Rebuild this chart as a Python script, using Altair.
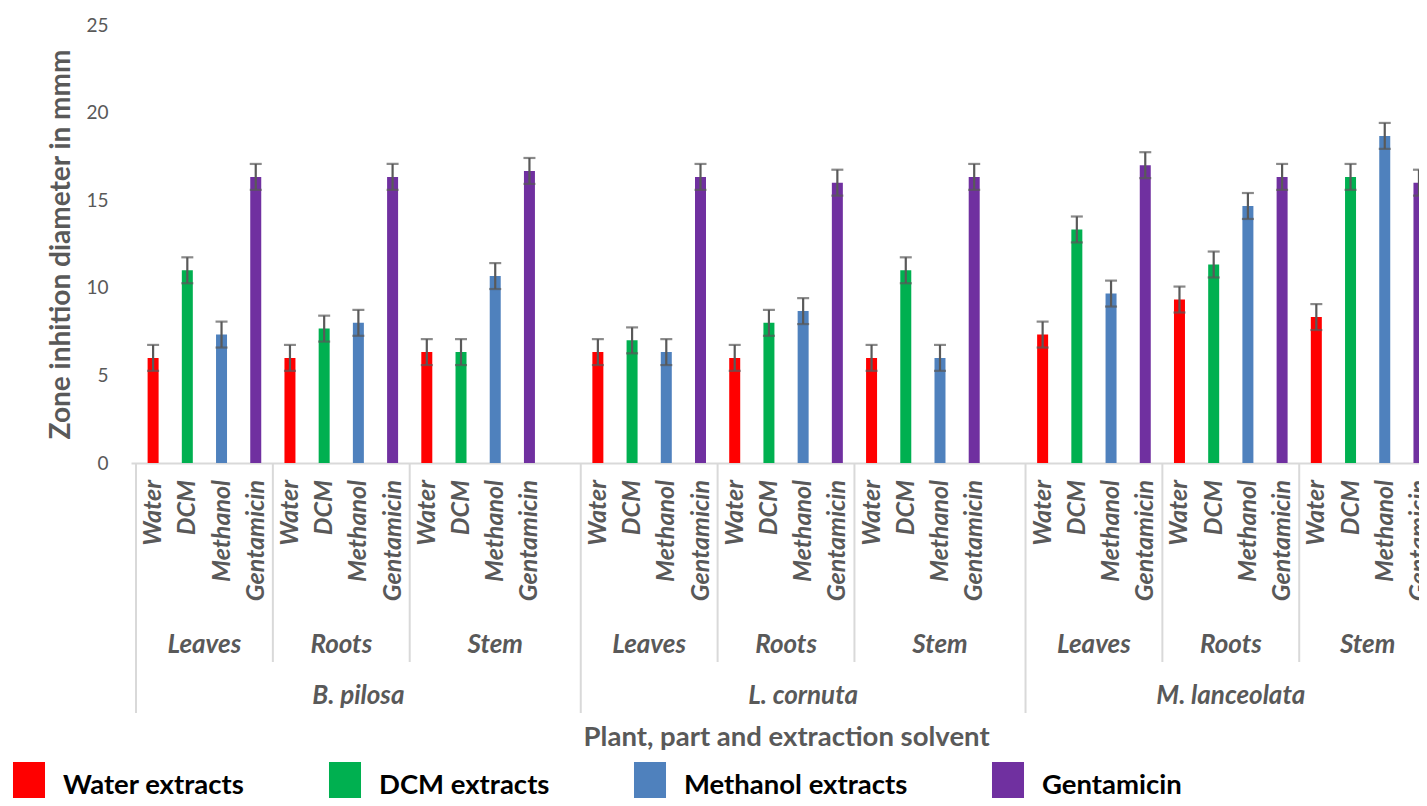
import altair as alt
import pandas as pd

# ---- data ----
PLANTS = ["B. pilosa", "L. cornuta", "M. lanceolata"]
PARTS = ["Leaves", "Roots", "Stem"]
SOLVENTS = ["Water", "DCM", "Methanol", "Gentamicin"]
LEGEND_LABELS = ["Water extracts", "DCM extracts", "Methanol extracts", "Gentamicin"]
COLORS = ["#FF0000", "#00B050", "#4F81BD", "#7030A0"]

# one value per plant/part group (B.p L, R, S | L.c L, R, S | M.l L, R, S)
WATER = [6.0, 6.0, 6.33, 6.33, 6.0, 6.0, 7.33, 9.33, 8.33]
DCM = [11.0, 7.67, 6.33, 7.0, 8.0, 11.0, 13.33, 11.33, 16.33]
METHANOL = [7.33, 8.0, 10.67, 6.33, 8.67, 6.0, 9.67, 14.67, 18.67]
GENTAMICIN = [16.33, 16.33, 16.67, 16.33, 16.0, 16.33, 17.0, 16.33, 16.0]
ERR_WATER = [0.74, 0.74, 0.74, 0.74, 0.74, 0.74, 0.74, 0.74, 0.74]
ERR_DCM = [0.74, 0.74, 0.74, 0.74, 0.74, 0.74, 0.74, 0.74, 0.74]
ERR_METHANOL = [0.74, 0.74, 0.74, 0.74, 0.74, 0.74, 0.74, 0.74, 0.74]
ERR_GENTAMICIN = [0.74, 0.74, 0.74, 0.74, 0.74, 0.74, 0.74, 0.74, 0.74]

SERIES = [WATER, DCM, METHANOL, GENTAMICIN]
ERRS = [ERR_WATER, ERR_DCM, ERR_METHANOL, ERR_GENTAMICIN]

# ---- build tables (category slots, with an empty slot between plants) ----
rows, parts_rows, plant_rows, bounds = [], [], [], []
slot = 0
for pi, plant in enumerate(PLANTS):
    plant_start = slot
    for qi, part in enumerate(PARTS):
        part_start = slot
        g = pi * len(PARTS) + qi
        for si, solv in enumerate(SOLVENTS):
            v, e = SERIES[si][g], ERRS[si][g]
            rows.append(dict(pos=slot + 0.5, solvent=solv, series=LEGEND_LABELS[si],
                             value=v, lo=v - e, hi=v + e))
            slot += 1
        if qi == len(PARTS) - 1 and pi < len(PLANTS) - 1:
            slot += 1  # gap slot belongs to the last part of the plant
        parts_rows.append(dict(pos=(part_start + slot) / 2, label=part))
        if qi > 0:
            bounds.append(dict(b=part_start, kind="part"))
    plant_rows.append(dict(pos=(plant_start + slot) / 2, label=plant))
    bounds.append(dict(b=plant_start, kind="plant"))
bounds.append(dict(b=slot, kind="plant"))
N_SLOTS = slot

df = pd.DataFrame(rows)
parts_df = pd.DataFrame(parts_rows)
plants_df = pd.DataFrame(plant_rows)
bounds_df = pd.DataFrame(bounds)

# The reference plot runs past the right edge of the picture: the visible
# plot width is W, and one category slot is STEP pixels wide.
STEP = 34.48
W, H = 1288, 438
FULL_W = N_SLOTS * STEP
GRAY = "#595959"
LINE = "#D9D9D9"
FONT = "Lato"

xscale = alt.Scale(domain=[0, W / STEP], nice=False, zero=False)
yscale = alt.Scale(domain=[0, 25], nice=False)

XTITLE = "Plant, part and extraction solvent"
YTITLE = "Zone inhition diameter in mmm"

XAXIS = alt.Axis(labels=False, ticks=False, grid=False, domain=True,
                 domainColor=LINE, domainWidth=2, title=XTITLE,
                 titleFont=FONT, titleFontSize=27.5, titleFontWeight="bold",
                 titleColor=GRAY, titleX=FULL_W / 2, titleY=274,
                 titleAlign="center", titleBaseline="middle")
YAXIS = alt.Axis(values=[0, 5, 10, 15, 20, 25], grid=False, domain=False,
                 ticks=False, labelFont=FONT, labelFontSize=19,
                 labelColor=GRAY, labelPadding=23, title=YTITLE,
                 titleFont=FONT, titleFontSize=28, titleFontWeight="bold",
                 titleColor=GRAY, titleX=-70, titleY=H / 2, titleAngle=270,
                 titleAlign="center", titleBaseline="middle")

X = alt.X("pos:Q", scale=xscale, axis=XAXIS, title=XTITLE)

base = alt.Chart(df)

bars = base.mark_bar(size=11, orient="vertical").encode(
    x=X,
    y=alt.Y("value:Q", scale=yscale, stack=None, axis=YAXIS, title=YTITLE),
    color=alt.Color("series:N", scale=alt.Scale(domain=LEGEND_LABELS, range=COLORS),
                    legend=alt.Legend(orient="none", legendX=-126, legendY=737,
                                      direction="horizontal", columns=4, title=None,
                                      symbolType="M-0.667,-1H0.667V1H-0.667Z",
                                      symbolSize=2304, symbolStrokeWidth=0,
                                      symbolOpacity=1, labelFont=FONT,
                                      labelFontSize=27.5, labelFontWeight="bold",
                                      labelColor="black", labelOffset=10,
                                      columnPadding=76, padding=0, labelLimit=500)),
)

err = base.mark_rule(color=GRAY, strokeWidth=2.2).encode(
    x=X,
    y=alt.Y("lo:Q", scale=yscale, axis=YAXIS, title=YTITLE),
    y2="hi:Q",
)
cap_lo = base.mark_tick(orient="horizontal", size=12, thickness=2.2, color=GRAY).encode(
    x=X,
    y=alt.Y("lo:Q", scale=yscale, axis=YAXIS, title=YTITLE),
)
cap_hi = base.mark_tick(orient="horizontal", size=12, thickness=2.2, color=GRAY).encode(
    x=X,
    y=alt.Y("hi:Q", scale=yscale, axis=YAXIS, title=YTITLE),
)

solv_labels = base.mark_text(angle=270, align="right", baseline="middle",
                             font=FONT, fontSize=25, fontStyle="italic",
                             fontWeight="bold", color=GRAY).encode(
    x=X,
    y=alt.value(H + 17),
    text="solvent:N",
)

part_labels = alt.Chart(parts_df).mark_text(
    align="center", baseline="middle", font=FONT, fontSize=26,
    fontStyle="italic", fontWeight="bold", color=GRAY).encode(
    x=X,
    y=alt.value(H + 182),
    text="label:N",
)

plant_labels = alt.Chart(plants_df).mark_text(
    align="center", baseline="middle", font=FONT, fontSize=26,
    fontStyle="italic", fontWeight="bold", color=GRAY).encode(
    x=X,
    y=alt.value(H + 233),
    text="label:N",
)

XB = alt.X("b:Q", scale=xscale, axis=XAXIS, title=XTITLE)
part_lines = alt.Chart(bounds_df).transform_filter(
    alt.datum.kind == "part").mark_rule(color=LINE, strokeWidth=2).encode(
    x=XB, y=alt.value(H), y2=alt.value(H + 199),
)
plant_lines = alt.Chart(bounds_df).transform_filter(
    alt.datum.kind == "plant").mark_rule(color=LINE, strokeWidth=2).encode(
    x=XB, y=alt.value(H), y2=alt.value(H + 250),
)

chart = alt.layer(
    part_lines, plant_lines, bars, err, cap_lo, cap_hi,
    solv_labels, part_labels, plant_labels,
).properties(
    width=W, height=H,
    autosize=alt.AutoSizeParams(type="none"),
    padding={"left": 123, "top": 17, "right": 0, "bottom": 335},
    background="white",
).configure(font=FONT).configure_view(strokeWidth=0)

chart.save("out.html", embed_options={"renderer": "svg", "actions": False})
